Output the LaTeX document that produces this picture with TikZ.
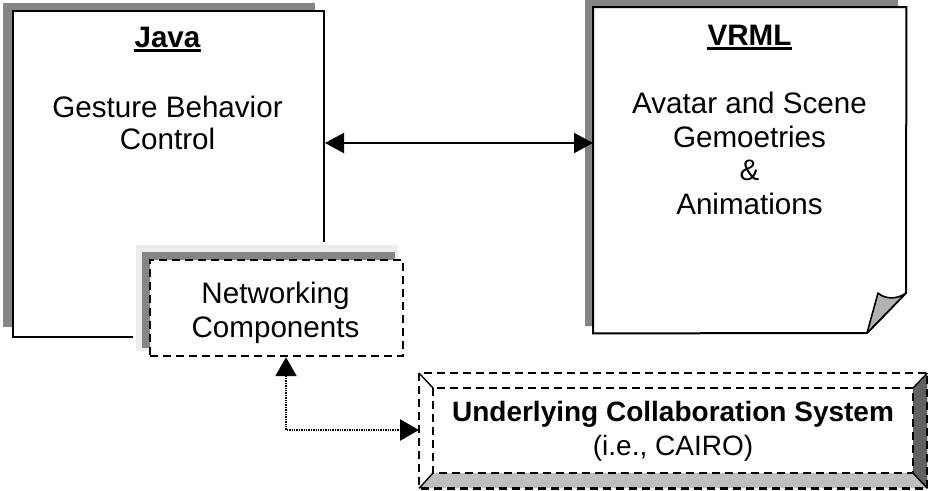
\documentclass[tikz,border=0pt]{standalone}
\usepackage{fontspec}
\setmainfont{Liberation Sans}
\usetikzlibrary{arrows.meta}
\begin{document}
\begin{tikzpicture}[x=1pt,y=-1pt,
  panel/.style={draw=black,line width=2pt,fill=white,inner sep=0pt,anchor=north west},
  frame/.style={inner sep=0pt,anchor=north west},
  shade/.style={fill=black!48},
  dashbox/.style={draw=black,line width=2.2pt,dash pattern=on 8pt off 5pt},
  lbl/.style={inner sep=0pt,anchor=base,font=\fontsize{29.6}{34}\selectfont},
  ttl/.style={inner sep=0pt,anchor=base,font=\fontsize{29.6}{34}\selectfont\bfseries},
  sml/.style={inner sep=0pt,anchor=base,font=\fontsize{28}{32}\selectfont},
  smlb/.style={inner sep=0pt,anchor=base,font=\fontsize{28}{32}\selectfont\bfseries},
  uline/.style={line width=2.5pt},
  link/.style={line width=2pt,{Triangle[length=19pt,width=20pt]}-{Triangle[length=19pt,width=20pt]}},
  dotlink/.style={line width=2.4pt,dash pattern=on 1.4pt off 1pt,{Triangle[length=19pt,width=21pt]}-{Triangle[length=19pt,width=21pt]}}
]
\useasboundingbox (0,0) rectangle (928,490);
\fill[white] (0,0) rectangle (928,490);

% ---- Java panel with drop shadow to the upper left
\fill[shade] (3,3) rectangle (315,327);
\node[panel,minimum width=311pt,minimum height=326pt] (java) at (12,10) {};

% ---- VRML page with a curled corner
\fill[shade] (585,0) -- (898,0) -- (898,286) -- (859,326) -- (585,326) -- cycle;
\node[frame,minimum width=313pt,minimum height=326pt] (vrml) at (593,7) {};
\draw[line width=2pt,fill=white,line join=miter]
  (vrml.north west) -- (vrml.north east) -- (906,293) -- (867,333) -- (vrml.south west) -- cycle;
\fill[black!30] (867,333) -- (878,293) .. controls (886,300) and (898,299) .. (906,293) -- cycle;
\draw[line width=1.6pt,line join=round]
  (867,333) -- (878,293) .. controls (886,300) and (898,299) .. (906,293) -- cycle;

% ---- Networking components, overlapping the Java panel
\fill[white] (133,242) rectangle (404,357);
\fill[black!7] (136,245) rectangle (398,351);
\fill[shade] (142,252) rectangle (395,348);
\node[frame,dashbox,fill=white,minimum width=253pt,minimum height=96pt] (net) at (149,259) {};

% ---- Underlying collaboration system (bevelled frame)
\node[frame,minimum width=508pt,minimum height=115pt] (cairo) at (419,373) {};
\fill[white] (cairo.north west) rectangle (cairo.south east);
\fill[black!62] (913,388) -- (cairo.north east) -- (cairo.south east) -- (913,473) -- cycle;
\fill[black!25] (433,473) -- (913,473) -- (cairo.south east) -- (cairo.south west) -- cycle;
\draw[dashbox] (cairo.north west) rectangle (cairo.south east);
\draw[dashbox] (433,388) rectangle (913,473);
\draw[line width=1.4pt] (cairo.north west) -- (433,388)
  (cairo.south west) -- (433,473)
  (cairo.north east) -- (913,388)
  (cairo.south east) -- (913,473);

% ---- Labels
\node[ttl] (javat) at (167.5,47) {Java};
\draw[uline] ([yshift=-3.5pt]javat.base west) -- ([yshift=-3.5pt]javat.base east);
\node[lbl] (java1) at (167.5,117) {Gesture Behavior};
\node[lbl] (java2) at (167.5,149) {Control};

\node[ttl] (vrmlt) at (749.5,45) {VRML};
\draw[uline] ([yshift=-3.5pt]vrmlt.base west) -- ([yshift=-3.5pt]vrmlt.base east);
\node[lbl] (vrml1) at (749.5,113) {Avatar and Scene};
\node[lbl] (vrml2) at (749.5,147) {Gemoetries};
\node[lbl] (vrml3) at (749.5,180) {\&};
\node[lbl] (vrml4) at (749.5,214) {Animations};

\node[lbl] (net1) at (275.5,303) {Networking};
\node[lbl] (net2) at (275.5,337) {Components};

\node[smlb] (cairo1) at (673,421) {Underlying Collaboration System};
\node[sml] (cairo2) at (673,455) {(i.e., CAIRO)};

% ---- Connectors
\coordinate (ay) at (0,143);
\draw[link] (java.east |- ay) -- (vrml.west |- ay);
\coordinate (bend) at (286,430);
\draw[dotlink] (bend |- net.south) -- (bend) -- (cairo.west |- bend);
\end{tikzpicture}
\end{document}
